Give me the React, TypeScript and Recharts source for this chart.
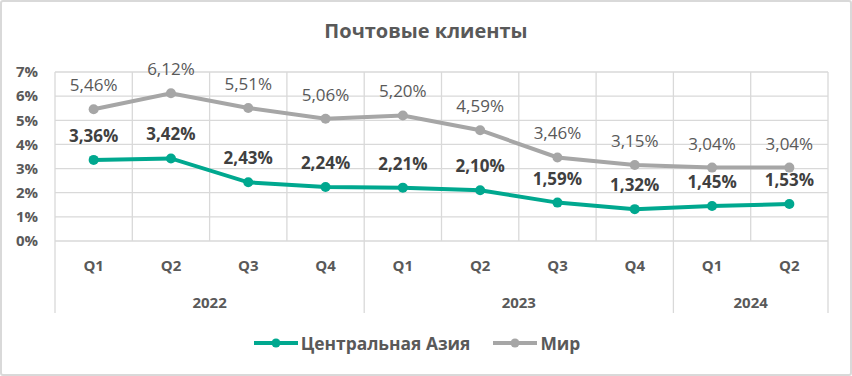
import React from 'react';
import { LineChart, Line, XAxis, YAxis, CartesianGrid, LabelList, Legend } from 'recharts';

const quarters = ['Q1', 'Q2', 'Q3', 'Q4', 'Q1', 'Q2', 'Q3', 'Q4', 'Q1', 'Q2'];
const years = ['2022', '2023', '2024'];
const yearSpans = [4, 4, 2];
const centralAsia = [3.36, 3.42, 2.43, 2.24, 2.21, 2.1, 1.59, 1.32, 1.45, 1.53];
const world = [5.46, 6.12, 5.51, 5.06, 5.2, 4.59, 3.46, 3.15, 3.04, 3.04];
const yTicks = [0, 1, 2, 3, 4, 5, 6, 7];
const seriesNames = ['Центральная Азия', 'Мир'];

const TEAL = '#00a88f';
const GREY = '#a6a6a6';
const TEXT = '#595959';
const GRID = '#d9d9d9';
const FONT = '"Open Sans", "Noto Sans", sans-serif';

const data = quarters.map((q, i) => ({ pos: i + 0.5, quarter: q, ca: centralAsia[i], world: world[i] }));

// year boundaries and centres on the 0..n position scale
const boundaries: number[] = [0];
const yearCenters: number[] = [];
yearSpans.forEach((s) => {
  const start = boundaries[boundaries.length - 1];
  yearCenters.push(start + s / 2);
  boundaries.push(start + s);
});
const axisTicks = [...boundaries, ...yearCenters, ...data.map((d) => d.pos)].sort((a, b) => a - b);

const fmt = (v: number) => v.toFixed(2).replace('.', ',') + '%';

function AxisTick(props: any) {
  const { x, y, payload } = props;
  const v = payload.value;
  if (boundaries.includes(v)) {
    return <line x1={x} x2={x} y1={y} y2={y + 72} stroke={GRID} strokeWidth={1.3} />;
  }
  const yi = yearCenters.indexOf(v);
  if (yi >= 0) {
    return (
      <text x={x} y={y + 66.5} textAnchor="middle" fill={TEXT} fontSize={15} fontWeight={700} fontFamily={FONT}>
        {years[yi]}
      </text>
    );
  }
  return (
    <text x={x} y={y + 29.5} textAnchor="middle" fill={TEXT} fontSize={15} fontWeight={700} fontFamily={FONT}>
      {quarters[Math.floor(v)]}
    </text>
  );
}

function LegendContent(props: any) {
  const items = [...(props.payload || [])].sort(
    (a: any, b: any) => seriesNames.indexOf(a.value) - seriesNames.indexOf(b.value)
  );
  return (
    <div
      style={{
        display: 'flex',
        justifyContent: 'center',
        alignItems: 'center',
        height: 30,
        paddingLeft: 6,
        fontFamily: FONT,
        fontSize: 17.4,
        fontWeight: 700,
        color: TEXT,
      }}
    >
      {items.map((p: any) => (
        <span key={p.value} style={{ display: 'inline-flex', alignItems: 'center', margin: '0 11.5px' }}>
          <svg width={44} height={12} style={{ marginRight: 3 }}>
            <line x1={0} x2={44} y1={6} y2={6} stroke={p.color} strokeWidth={4} strokeLinecap="round" />
            <circle cx={22} cy={6} r={4.5} fill={p.color} />
          </svg>
          {p.value}
        </span>
      ))}
    </div>
  );
}

export default function App() {
  return (
    <div style={{ position: 'fixed', left: 0, top: 0, width: 852, height: 376, background: '#fff' }}>
      <div
        style={{
          position: 'absolute',
          inset: 0,
          border: `2px solid ${GRID}`,
          borderRadius: 3,
          boxSizing: 'border-box',
        }}
      />
      <div
        style={{
          position: 'absolute',
          left: 0,
          top: 17,
          width: 852,
          textAlign: 'center',
          fontFamily: FONT,
          fontWeight: 700,
          fontSize: 20,
          color: TEXT,
        }}
      >
        Почтовые клиенты
      </div>
      <div style={{ position: 'absolute', left: 0, top: 0 }}>
        <LineChart width={852} height={376} data={data} margin={{ top: 72, right: 24, left: 0, bottom: 18 }}>
          <CartesianGrid
            stroke={GRID}
            strokeWidth={1.3}
            verticalCoordinatesGenerator={({ offset }: any) =>
              quarters.map((_, i) => offset.left + (i * offset.width) / quarters.length).concat(offset.left + offset.width)
            }
          />
          <XAxis
            dataKey="pos"
            type="number"
            domain={[0, quarters.length]}
            ticks={axisTicks}
            interval={0}
            axisLine={false}
            tickLine={false}
            tickSize={0}
            tickMargin={0}
            height={87}
            tick={<AxisTick />}
          />
          <YAxis
            domain={[0, 7]}
            ticks={yTicks}
            width={55}
            axisLine={false}
            tickLine={false}
            tickMargin={11}
            tickFormatter={(v: number) => `${v}%`}
            tick={{ fill: TEXT, fontSize: 15, fontWeight: 700, fontFamily: FONT }}
          />
          <Legend verticalAlign="bottom" content={<LegendContent />} />
          <Line
            dataKey="ca"
            name={seriesNames[0]}
            stroke={TEAL}
            strokeWidth={4}
            dot={{ r: 5, fill: TEAL, stroke: TEAL, strokeWidth: 0 }}
            isAnimationActive={false}
          >
            <LabelList
              dataKey="ca"
              position="top"
              offset={18}
              formatter={(v: any) => fmt(Number(v))}
              style={{ fill: '#404040', fontSize: 17, fontWeight: 700, fontFamily: FONT }}
            />
          </Line>
          <Line
            dataKey="world"
            name={seriesNames[1]}
            stroke={GREY}
            strokeWidth={4}
            dot={{ r: 5, fill: GREY, stroke: GREY, strokeWidth: 0 }}
            isAnimationActive={false}
          >
            <LabelList
              dataKey="world"
              position="top"
              offset={18}
              formatter={(v: any) => fmt(Number(v))}
              style={{ fill: TEXT, fontSize: 17, fontWeight: 400, fontFamily: FONT }}
            />
          </Line>
        </LineChart>
      </div>
    </div>
  );
}
